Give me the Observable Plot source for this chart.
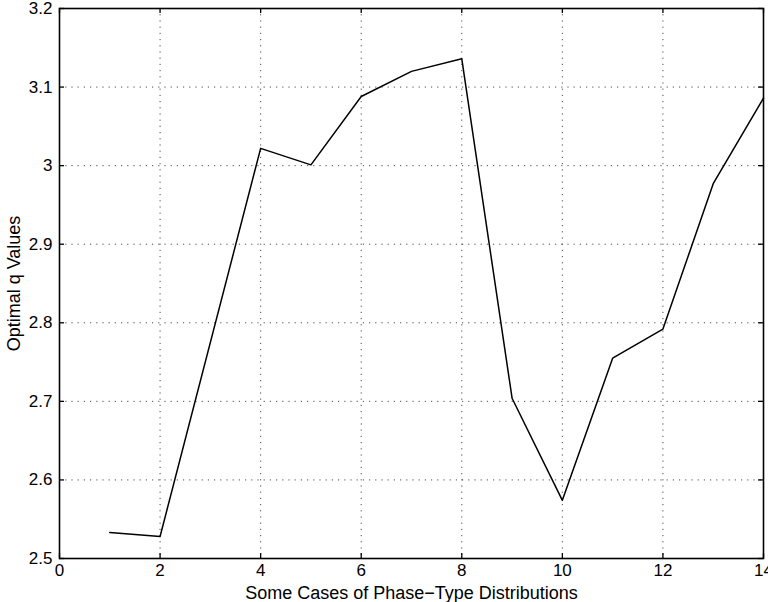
<!DOCTYPE html>
<html>
<head>
<meta charset="utf-8">
<script src="https://cdn.jsdelivr.net/npm/d3@7"></script>
<script src="https://cdn.jsdelivr.net/npm/@observablehq/plot@0.6"></script>
<style>
  html, body { margin: 0; padding: 0; background: #fff; }
  #chart svg { display: block; }
</style>
</head>
<body>
<div id="chart"></div>
<script>
// Cases (x) and optimal q values (y)
const cases = [1, 2, 4, 5, 6, 7, 8, 9, 10, 11, 12, 13, 14];
const qValues = [2.533, 2.528, 3.022, 3.001, 3.088, 3.120, 3.136, 2.704, 2.574, 2.755, 2.792, 2.977, 3.086];
const xTicks = [0, 2, 4, 6, 8, 10, 12, 14];
const yTicks = [2.5, 2.6, 2.7, 2.8, 2.9, 3.0, 3.1, 3.2];
const xLabel = "Some Cases of Phase−Type Distributions";
const yLabel = "Optimal q Values";

const data = cases.map((c, i) => ({x: c, y: qValues[i]}));

const W = 768, H = 602;
const mL = 59, mR = 5, mT = 8, mB = 44;
const innerH = H - mT - mB;
const innerW = W - mL - mR;
const tickLen = 5;

const chart = Plot.plot({
  width: W,
  height: H,
  marginLeft: mL,
  marginRight: mR,
  marginTop: mT,
  marginBottom: mB,
  style: {fontFamily: "'Liberation Sans', Arial, sans-serif", fontSize: "17px", color: "#000", background: "#fff", overflow: "visible"},
  x: {domain: [0, 14]},
  y: {domain: [2.5, 3.2]},
  marks: [
    Plot.gridX(xTicks.slice(1, -1), {stroke: "#000", strokeOpacity: 0.7, strokeDasharray: "1.2,5", strokeWidth: 1}),
    Plot.gridY(yTicks.slice(1, -1), {stroke: "#000", strokeOpacity: 0.7, strokeDasharray: "1.2,5", strokeWidth: 1}),
    // inward ticks: bottom, top, left, right
    Plot.tickX(xTicks, {x: d => d, stroke: "#000", strokeWidth: 1.3, insetTop: innerH - tickLen}),
    Plot.tickX(xTicks, {x: d => d, stroke: "#000", strokeWidth: 1.3, insetBottom: innerH - tickLen}),
    Plot.tickY(yTicks, {y: d => d, stroke: "#000", strokeWidth: 1.3, insetRight: innerW - tickLen}),
    Plot.tickY(yTicks, {y: d => d, stroke: "#000", strokeWidth: 1.3, insetLeft: innerW - tickLen}),
    Plot.frame({stroke: "#000", strokeWidth: 1.6}),
    Plot.line(data, {x: "x", y: "y", stroke: "#000", strokeWidth: 1.5}),
    Plot.axisX(xTicks, {tickSize: 0, tickPadding: 5, tickFormat: d => String(d), fontSize: 17, label: null}),
    Plot.axisX({ticks: [], tickSize: 0, label: xLabel, labelAnchor: "center", labelOffset: 40, labelArrow: "none", fontSize: 18}),
    Plot.axisY(yTicks, {tickSize: 0, tickPadding: 7, tickFormat: d => (Math.round(d * 10) / 10).toString(), fontSize: 17, label: null}),
    Plot.axisY({ticks: [], tickSize: 0, label: yLabel, labelAnchor: "center", labelOffset: 52, labelArrow: "none", fontSize: 18})
  ]
});
document.getElementById("chart").appendChild(chart);
</script>
</body>
</html>
